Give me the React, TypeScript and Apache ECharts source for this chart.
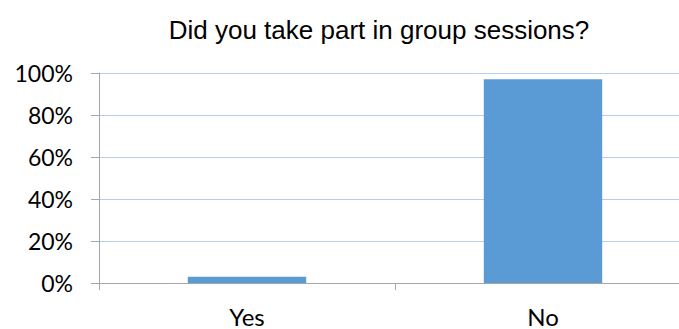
import React, { useEffect, useRef } from "react";
import * as echarts from "echarts";

const categories = ["Yes", "No"];
const values = [3, 97];
const yTicks = [0, 20, 40, 60, 80, 100];

export default function App() {
  const ref = useRef<HTMLDivElement>(null);
  useEffect(() => {
    const chart = echarts.init(ref.current!, null, { renderer: "svg" });
    chart.setOption({
      animation: false,
      title: {
        text: "Did you take part in group sessions?",
        left: 374,
        textAlign: "center",
        top: 12,
        textStyle: { fontFamily: "Liberation Sans", fontWeight: "normal", fontSize: 26, color: "#000" },
      },
      grid: { left: 99, right: 0, top: 73, bottom: 46 },
      xAxis: {
        type: "category",
        data: categories,
        axisLine: { lineStyle: { color: "#a6a6a6" } },
        axisTick: { show: true, length: 7, lineStyle: { color: "#a6a6a6" } },
        axisLabel: { fontFamily: "Lato", fontSize: 24, color: "#000", margin: 21 },
      },
      yAxis: {
        type: "value",
        min: yTicks[0],
        max: yTicks[yTicks.length - 1],
        interval: 20,
        axisLine: { show: true, lineStyle: { color: "#a6a6a6" } },
        axisTick: { show: true, length: 8, lineStyle: { color: "#a6a6a6" } },
        axisLabel: { fontFamily: "Lato", fontSize: 23, color: "#000", margin: 26, formatter: "{value}%" },
        splitLine: { lineStyle: { color: "#b4cfee" } },
      },
      series: [
        {
          type: "bar",
          data: values,
          barWidth: "40%",
          itemStyle: { color: "#5b9bd5" },
        },
      ],
    });
    return () => chart.dispose();
  }, []);
  return (
    <div style={{ position: "absolute", left: 0, top: 0, width: 679, height: 329, overflow: "hidden" }}>
      <div ref={ref} style={{ position: "absolute", left: 0, top: 0, width: 691, height: 329 }} />
    </div>
  );
}
